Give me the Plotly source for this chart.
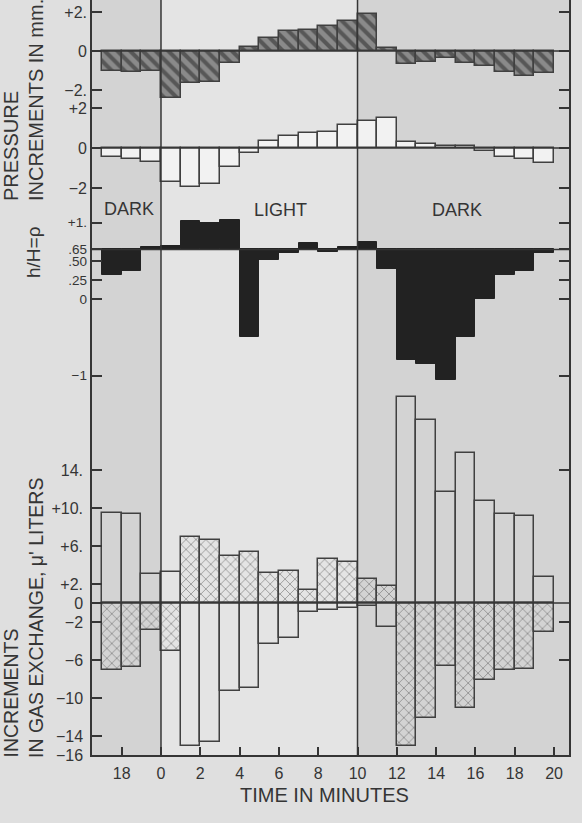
import plotly.graph_objects as go

# ---- data ----
minute_start = [-3, -2, -1, 0, 1, 2, 3, 4, 5, 6, 7, 8, 9, 10, 11, 12, 13, 14, 15, 16, 17, 18, 19]

# pressure increments, mm (upper hatched series)
pressure_a = [-1.0, -1.1, -1.03, -2.43, -1.66, -1.57, -0.63, 0.22, 0.65, 1.0, 1.08, 1.28,
              1.55, 1.88, 0.17, -0.68, -0.58, -0.37, -0.6, -0.77, -1.09, -1.28, -1.11]
# pressure increments, mm (lower open series)
pressure_b = [-0.43, -0.57, -0.72, -1.68, -1.97, -1.82, -0.93, -0.23, 0.37, 0.6, 0.77, 0.82,
              1.13, 1.35, 1.48, 0.32, 0.2, 0.12, 0.12, -0.17, -0.43, -0.57, -0.73]
# h/H = rho
rho = [0.32, 0.375, 0.68, 0.70, 1.02, 0.99, 1.04, -0.49, 0.51, 0.60, 0.74, 0.62,
       0.68, 0.75, 0.40, -0.80, -0.85, -1.06, -0.50, 0.0, 0.32, 0.37, 0.61]
rho_base = 0.65
# gas exchange increments, microliters
gas_open = [9.5, 9.4, 3.05, 3.3, -15.1, -14.6, -9.3, -8.9, -4.3, -3.7, -1.0, -0.7,
            -0.5, -0.3, -2.5, 21.7, 19.3, 11.7, 15.8, 10.7, 9.4, 9.2, 2.7]
gas_hatched = [-7.05, -6.7, -2.8, -5.05, 6.9, 6.6, 4.9, 5.4, 3.2, 3.4, 1.4, 4.6,
               4.3, 2.5, 1.8, -15.1, -12.1, -6.6, -11.1, -8.1, -7.1, -6.9, -3.1]

light_on = 0
light_off = 10

x_tickvals = [-2, 0, 2, 4, 6, 8, 10, 12, 14, 16, 18, 20]
x_ticktext = ["18", "0", "2", "4", "6", "8", "10", "12", "14", "16", "18", "20"]

p1_tickvals = [2, 0, -2]
p1_ticktext = ["+2.", "0", "\u22122."]
p2_tickvals = [2, 0, -2]
p2_ticktext = ["+2", "0", "\u22122"]
rho_tickvals = [1, 0.65, 0.5, 0.25, 0, -1]
rho_ticktext = ["+1.", ".65", ".50", ".25", "0", "\u22121"]
gas_tickvals = [14, 10, 6, 2, 0, -2, -6, -10, -14, -16]
gas_ticktext = ["14.", "+10.", "+6.", "+2.", "0", "\u22122", "\u22126", "\u221210", "\u221214", "\u221216"]
gas_right_ticks = [14, -2, -6]

# ---- style ----
INK = "#353535"
FONT = "Liberation Sans, Arial, sans-serif"
X_RANGE = [-3.51, 20.76]
R1 = [-36.10, 2.615]
R2 = [-30.35, 7.4]
R3 = [-5.958, 3.911]
R4 = [-16, 63.47]

xc = [m + 0.5 for m in minute_start]

fig = go.Figure()

fig.add_trace(go.Bar(
    x=xc, y=pressure_a, width=1, yaxis="y2", showlegend=False,
    marker=dict(color="#8a8a8a", line=dict(color="#404040", width=1.5),
                pattern=dict(shape="\\", fgcolor="#575757", bgcolor="#8a8a8a",
                             size=9, solidity=0.45, fillmode="replace")),
))
fig.add_trace(go.Bar(
    x=xc, y=pressure_b, width=1, yaxis="y3", showlegend=False,
    marker=dict(color="#f2f2f2", line=dict(color="#404040", width=1.5)),
))
fig.add_trace(go.Bar(
    x=xc, y=[v - rho_base for v in rho], base=rho_base, width=1, yaxis="y4", showlegend=False,
    marker=dict(color="#222222", line=dict(color="#222222", width=1)),
))
fig.add_trace(go.Bar(
    x=xc, y=gas_hatched, width=1, yaxis="y", showlegend=False,
    marker=dict(color="rgba(0,0,0,0)", line=dict(color="#404040", width=1.5),
                pattern=dict(shape="x", fgcolor="#666666", bgcolor="rgba(0,0,0,0)",
                             size=7, solidity=0.15, fillmode="replace")),
))
fig.add_trace(go.Bar(
    x=xc, y=gas_open, width=1, yaxis="y", showlegend=False,
    marker=dict(color="rgba(0,0,0,0)", line=dict(color="#404040", width=1.5)),
))
# empty traces so the right-hand tick axes are drawn
for ax in ["y5", "y6", "y7", "y8"]:
    fig.add_trace(go.Scatter(x=[], y=[], yaxis=ax, showlegend=False, hoverinfo="skip"))

tick_common = dict(ticks="inside", ticklen=10, tickwidth=1.5, tickcolor=INK,
                   showgrid=False, zeroline=False,
                   tickfont=dict(family=FONT, size=16, color=INK))

def left_axis(rng, tv, tt, **kw):
    d = dict(range=rng, tickvals=tv, ticktext=tt, anchor="x", side="left",
             ticklabelstandoff=4, **tick_common)
    d.update(kw)
    return d

def right_axis(rng, tv):
    d = dict(range=rng, tickvals=tv, anchor="x", side="right", overlaying="y",
             showticklabels=False, **tick_common)
    return d

shapes = []
# dark periods
shapes.append(dict(type="rect", xref="x", yref="paper", x0=X_RANGE[0], x1=light_on, y0=0, y1=1,
                   fillcolor="#d3d3d3", line=dict(width=0), layer="below"))
shapes.append(dict(type="rect", xref="x", yref="paper", x0=light_off, x1=X_RANGE[1], y0=0, y1=1,
                   fillcolor="#d3d3d3", line=dict(width=0), layer="below"))
# vertical transitions
for xv in [light_on, light_off]:
    shapes.append(dict(type="line", xref="x", yref="paper", x0=xv, x1=xv, y0=0, y1=1,
                       line=dict(color=INK, width=1.5), layer="above"))
# baselines
for yref, yv in [("y2", 0), ("y3", 0), ("y4", rho_base), ("y", 0)]:
    shapes.append(dict(type="line", xref="paper", yref=yref, x0=0, x1=1, y0=yv, y1=yv,
                       line=dict(color=INK, width=1.5), layer="above"))

def px_x(p):
    return (p - 92) / 477.0

def px_y(p):
    return (755 - p) / 755.0

annotations = []
for label, t, ypx in [("DARK", -1.63, 209), ("LIGHT", 6.06, 210), ("DARK", 15.06, 210)]:
    annotations.append(dict(text=label, x=t, y=px_y(ypx), xref="x", yref="paper",
                            showarrow=False, xanchor="center", yanchor="middle",
                            font=dict(family=FONT, size=18, color=INK)))
rot = [
    ("PRESSURE", 11, 203, "bottom", 20),
    ("INCREMENTS IN mm.", 36, 203, "bottom", 20),
    ("h/H=\u03c1", 33, 252, "middle", 19),
    ("INCREMENTS", 10, 760, "bottom", 19.5),
    ("IN GAS EXCHANGE, \u03bc' LITERS", 36, 760, "bottom", 19.5),
]
for text, xp, yp, ya, fs in rot:
    annotations.append(dict(text=text, x=px_x(xp), y=px_y(yp), xref="paper", yref="paper",
                            showarrow=False, textangle=-90, xanchor="center", yanchor=ya,
                            font=dict(family=FONT, size=fs, color=INK)))
annotations.append(dict(text="TIME IN MINUTES", x=px_x(324), y=px_y(795), xref="paper",
                        yref="paper", showarrow=False, xanchor="center", yanchor="middle",
                        font=dict(family=FONT, size=20, color=INK)))

fig.update_layout(
    width=582, height=823,
    margin=dict(l=92, r=13, t=0, b=68, autoexpand=False),
    paper_bgcolor="#dfdfdf", plot_bgcolor="#e4e4e4",
    barmode="overlay", bargap=0,
    showlegend=False,
    xaxis=dict(range=X_RANGE, tickvals=x_tickvals, ticktext=x_ticktext,
               ticks="inside", ticklen=8, tickwidth=1.5, tickcolor=INK,
               showline=True, linecolor=INK, linewidth=1.5, mirror=False,
               showgrid=False, zeroline=False, ticklabelstandoff=3,
               tickfont=dict(family=FONT, size=16, color=INK)),
    yaxis=left_axis(R4, gas_tickvals, gas_ticktext, showline=True, linecolor=INK,
                    linewidth=1.5, mirror=True),
    yaxis2=left_axis(R1, p1_tickvals, p1_ticktext, overlaying="y"),
    yaxis3=left_axis(R2, p2_tickvals, p2_ticktext, overlaying="y"),
    yaxis4=left_axis(R3, rho_tickvals, rho_ticktext, overlaying="y",
                     tickfont=dict(family=FONT, size=13.5, color=INK)),
    yaxis5=right_axis(R1, p1_tickvals),
    yaxis6=right_axis(R2, p2_tickvals),
    yaxis7=right_axis(R3, rho_tickvals),
    yaxis8=right_axis(R4, gas_right_ticks),
    shapes=shapes,
    annotations=annotations,
)

fig.write_html(
    "out.html",
    config={"displayModeBar": False},
    post_script="document.body.style.margin='0';document.body.style.overflow='hidden';"
                "document.documentElement.style.overflow='hidden';",
)
